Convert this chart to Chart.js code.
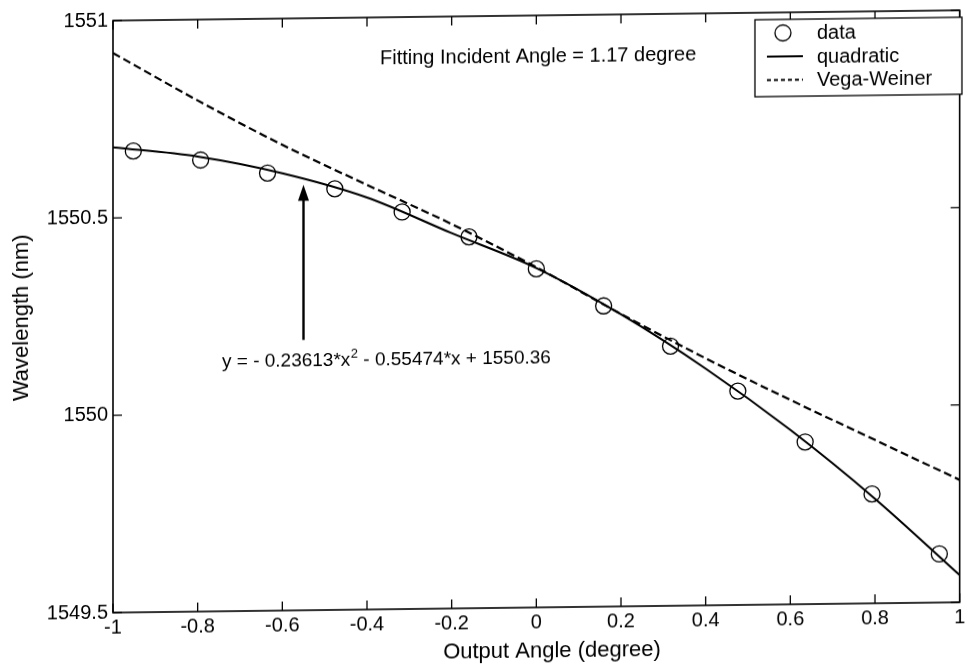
<!DOCTYPE html>
<html>
<head>
<meta charset="utf-8">
<title>Wavelength vs Output Angle</title>
<script src="https://cdn.jsdelivr.net/npm/chart.js@4.4.1/dist/chart.umd.min.js"></script>
<style>
  html, body { margin: 0; padding: 0; background: #fff; overflow: hidden; }
  #wrap { position: relative; width: 969px; height: 666px; overflow: hidden; background: #fff; }
  /* the printed figure leans slightly: right side sits higher than the left */
  #plot { position: absolute; left: 0; top: 0; transform-origin: 0 0; transform: skewY(-0.7deg); }
</style>
</head>
<body>
<div id="wrap"><canvas id="plot" width="969" height="680"></canvas></div>
<script>
// measured points
const angles = [-0.952, -0.793, -0.635, -0.476, -0.317, -0.159, 0, 0.159, 0.317, 0.476, 0.635, 0.793, 0.952];
const wavelengths = [1550.669, 1550.644, 1550.609, 1550.567, 1550.506, 1550.441, 1550.358, 1550.262, 1550.158, 1550.042, 1549.911, 1549.777, 1549.623];

// quadratic fit curve
const fitAngles = [-1, -0.8, -0.6, -0.4, -0.2, 0, 0.2, 0.4, 0.6, 0.8, 1];
const fitWave = [1550.679, 1550.653, 1550.608, 1550.544, 1550.451, 1550.360, 1550.240, 1550.100, 1549.942, 1549.765, 1549.569];

// Vega-Weiner model
const vegaAngles = [-1, -0.8, -0.6, -0.4, -0.2, 0, 0.2, 0.4, 0.6, 0.8, 1];
const vegaWave = [1550.918, 1550.795, 1550.680, 1550.576, 1550.474, 1550.362, 1550.241, 1550.126, 1550.018, 1549.914, 1549.810];

const xTicks = [-1, -0.8, -0.6, -0.4, -0.2, 0, 0.2, 0.4, 0.6, 0.8, 1];
const yTicks = [1549.5, 1550, 1550.5, 1551];

const FONT = '"Liberation Sans", Arial, Helvetica, sans-serif';
const INK = '#000';

const toPoints = (xs, ys) => xs.map((v, i) => ({ x: v, y: ys[i] }));

// arrow pointing at the fit curve (data coordinates)
const arrow = { x: -0.55, from: 1550.185, to: 1550.578 };

const decor = {
  id: 'decor',
  afterDraw(chart) {
    const { ctx, chartArea: a, scales: { x, y } } = chart;
    ctx.save();
    ctx.strokeStyle = INK;
    ctx.fillStyle = INK;

    // box around the plot
    ctx.lineWidth = 1.6;
    ctx.strokeRect(a.left, a.top, a.right - a.left, a.bottom - a.top);

    // inward ticks on all four sides
    ctx.lineWidth = 1.3;
    ctx.beginPath();
    xTicks.forEach(v => {
      const px = x.getPixelForValue(v);
      ctx.moveTo(px, a.bottom); ctx.lineTo(px, a.bottom - 9);
      ctx.moveTo(px, a.top); ctx.lineTo(px, a.top + 9);
    });
    yTicks.forEach(v => {
      const py = y.getPixelForValue(v);
      ctx.moveTo(a.left, py); ctx.lineTo(a.left + 9, py);
      ctx.moveTo(a.right, py); ctx.lineTo(a.right - 9, py);
    });
    ctx.stroke();

    // arrow
    const ax = x.getPixelForValue(arrow.x);
    const ay0 = y.getPixelForValue(arrow.from);
    const ay1 = y.getPixelForValue(arrow.to);
    ctx.lineWidth = 2.4;
    ctx.beginPath();
    ctx.moveTo(ax, ay0); ctx.lineTo(ax, ay1 + 12);
    ctx.stroke();
    ctx.beginPath();
    ctx.moveTo(ax, ay1);
    ctx.lineTo(ax - 5.5, ay1 + 16);
    ctx.lineTo(ax + 5.5, ay1 + 16);
    ctx.closePath();
    ctx.fill();

    // texts
    ctx.textAlign = 'left';
    ctx.textBaseline = 'alphabetic';
    ctx.font = '20px ' + FONT;
    ctx.fillText('Fitting Incident Angle = 1.17 degree', 380, 69);

    // fit equation with superscript
    let ex = 222;
    const ey = 369.5;
    ctx.font = '19px ' + FONT;
    const part1 = 'y = - 0.23613*x';
    ctx.fillText(part1, ex, ey);
    ex += ctx.measureText(part1).width;
    ctx.font = '13px ' + FONT;
    ctx.fillText('2', ex + 0.5, ey - 8);
    ex += ctx.measureText('2').width + 0.5;
    ctx.font = '19px ' + FONT;
    ctx.fillText(' - 0.55474*x + 1550.36', ex, ey);

    // x axis title
    ctx.font = '22px ' + FONT;
    ctx.textAlign = 'center';
    ctx.textBaseline = 'middle';
    ctx.fillText('Output Angle (degree)', 552, 658);

    // legend
    const ds = chart.data.datasets;
    const lx = 755, ly = 29, lw = 207, lh = 77;
    ctx.fillStyle = '#fff';
    ctx.fillRect(lx, ly, lw, lh);
    ctx.fillStyle = INK;
    ctx.lineWidth = 1.3;
    ctx.strokeRect(lx, ly, lw, lh);
    const rows = [42.5, 66, 89.5];
    ctx.font = '20px ' + FONT;
    ctx.textAlign = 'left';
    ctx.textBaseline = 'middle';
    rows.forEach((ry, i) => {
      const d = ds[i];
      ctx.lineWidth = d.showLine ? d.borderWidth : 1.3;
      if (!d.showLine) {
        ctx.beginPath();
        ctx.arc(783, ry, 8, 0, Math.PI * 2);
        ctx.stroke();
      } else {
        ctx.setLineDash(d.borderDash && d.borderDash.length ? [4, 3] : []);
        ctx.beginPath();
        ctx.moveTo(767, ry); ctx.lineTo(803, ry);
        ctx.stroke();
        ctx.setLineDash([]);
      }
      ctx.fillText(d.label, 817, ry + 1);
    });

    ctx.restore();
  }
};

new Chart(document.getElementById('plot'), {
  type: 'scatter',
  data: {
    datasets: [
      {
        label: 'data',
        data: toPoints(angles, wavelengths),
        showLine: false,
        pointStyle: 'circle',
        pointRadius: 8,
        pointBorderWidth: 1.3,
        borderColor: INK,
        backgroundColor: 'rgba(0,0,0,0)'
      },
      {
        label: 'quadratic',
        data: toPoints(fitAngles, fitWave),
        showLine: true,
        pointRadius: 0,
        borderWidth: 2,
        borderColor: INK,
        cubicInterpolationMode: 'monotone'
      },
      {
        label: 'Vega-Weiner',
        data: toPoints(vegaAngles, vegaWave),
        showLine: true,
        pointRadius: 0,
        borderWidth: 2.2,
        borderDash: [8, 4],
        borderColor: INK,
        cubicInterpolationMode: 'monotone'
      }
    ]
  },
  options: {
    responsive: false,
    animation: false,
    events: [],
    layout: { padding: { top: 22, right: 1, left: 0, bottom: 0 } },
    plugins: { legend: { display: false }, tooltip: { enabled: false } },
    scales: {
      x: {
        type: 'linear',
        min: -1,
        max: 1,
        afterBuildTicks: s => { s.ticks = xTicks.map(v => ({ value: v })); },
        afterFit: s => { s.height = 66; s.paddingLeft = 0; s.paddingRight = 0; },
        grid: { display: false, drawTicks: false },
        border: { display: false },
        ticks: {
          padding: 3,
          color: INK,
          autoSkip: false,
          maxRotation: 0,
          font: { family: FONT, size: 20 },
          callback: v => String(+v.toFixed(1))
        }
      },
      y: {
        type: 'linear',
        min: 1549.5,
        max: 1551,
        afterBuildTicks: s => { s.ticks = yTicks.map(v => ({ value: v })); },
        afterFit: s => { s.width = 113; s.paddingTop = 0; s.paddingBottom = 0; },
        grid: { display: false, drawTicks: false },
        border: { display: false },
        ticks: {
          padding: 5,
          color: INK,
          font: { family: FONT, size: 20 },
          callback: v => String(v)
        },
        title: {
          display: true,
          text: 'Wavelength (nm)',
          color: INK,
          font: { family: FONT, size: 22 },
          padding: { top: 9, bottom: 0 }
        }
      }
    }
  },
  plugins: [decor]
});
</script>
</body>
</html>
